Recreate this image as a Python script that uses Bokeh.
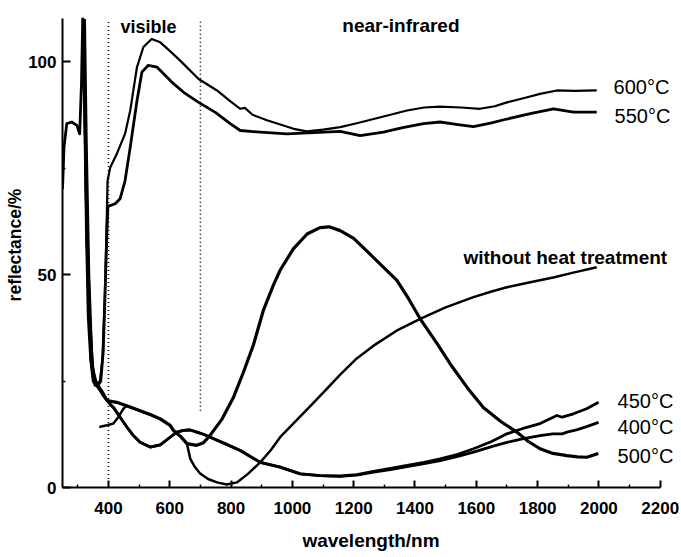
from bokeh.plotting import figure
from bokeh.models import FixedTicker, Label
from bokeh.embed import file_html
from bokeh.resources import INLINE

# ---------------- data ----------------
wl_600 = [320, 326, 333, 342, 352, 362, 372, 380, 388, 394, 397, 406, 427, 454, 471, 493, 514, 541,
          569, 600, 634, 694, 754, 800, 830, 845, 870, 917, 1004, 1047, 1100, 1156, 1210, 1265, 1320,
          1374, 1430, 1482, 1550, 1612, 1660, 1700, 1760, 1808, 1863, 1920, 1993]
r_600 = [110, 80, 50, 30, 24.5, 24.3, 25, 30, 45, 62, 72, 75.2, 78.3, 83, 88.5, 98.7, 103.4, 105.3,
         104.5, 102.5, 100.2, 95.9, 93.2, 90.5, 88.9, 89.1, 87.5, 86.2, 84.2, 83.6, 84.0, 84.6, 85.5, 86.5, 87.5,
         88.5, 89.2, 89.4, 89.2, 88.9, 89.5, 90.4, 91.5, 92.4, 93.2, 93.1, 93.2]

wl_550 = [322, 328, 336, 346, 356, 365, 375, 383, 390, 395, 398, 422, 438, 454, 471, 493, 509, 530,
          558, 612, 650, 694, 750, 797, 830, 895, 982, 1070, 1156, 1221, 1297, 1360, 1428, 1482, 1540,
          1591, 1650, 1700, 1780, 1852, 1917, 1993]
r_550 = [110, 80, 50, 30, 24, 23.8, 25, 32, 48, 60, 66, 66.6, 67.8, 72, 79.9, 90.8, 97.5, 99.1,
         98.7, 94.8, 92.5, 90.4, 88, 85.4, 83.8, 83.4, 83, 83.3, 83.6, 82.6, 83.4, 84.5, 85.4, 85.8, 85.2,
         84.7, 85.6, 86.5, 87.8, 88.9, 88.1, 88.1]

wl_raw = [370, 395, 416, 432, 449, 459, 503, 540, 569, 601, 612, 635, 656, 667, 682, 699, 725, 754,
          786, 819, 855, 895, 930, 960, 1010, 1060, 1110, 1156, 1210, 1265, 1340, 1417, 1500, 1591,
          1650, 1700, 1776, 1851, 1920, 1993]
r_raw = [14.2, 14.6, 15, 16.5, 18.5, 19.2, 18, 17, 16.1, 14.6, 13.4, 12, 10.3, 6.7, 4.8, 3.3, 2, 1.2,
         0.7, 1.2, 3.2, 5.9, 8.8, 11.8, 15.5, 19.2, 23, 26.5, 30.3, 33.3, 36.8, 39.6, 42.3, 44.7,
         46, 47, 48.2, 49.3, 50.5, 51.7]

wl_500 = [318, 324, 330, 338, 348, 358, 370, 385, 395, 427, 459, 503, 540, 569, 601, 612, 635, 656,
          688, 710, 732, 770, 808, 840, 873, 905, 938, 960, 1003, 1048, 1090, 1120, 1156, 1200, 1250,
          1300, 1341, 1380, 1417, 1470, 1515, 1570, 1623, 1680, 1732, 1770, 1808, 1850, 1896, 1930,
          1961, 1998]
r_500 = [110, 85, 60, 40, 28, 25, 23.5, 21.8, 20.4, 20, 19.2, 18, 17, 16.1, 14.6, 13.4, 12, 10.3,
         9.9, 10.5, 12.3, 16, 21.2, 27, 33.5, 41.5, 47.5, 51, 56, 59.5, 61, 61.2, 60.3, 58.5, 55,
         51.5, 48.6, 44.2, 39.6, 34, 29, 23.5, 18.8, 15.5, 13, 10.8, 9.1, 8, 7.5, 7.2,
         7.1, 8]

wl_450 = [318, 324, 330, 338, 348, 358, 373, 384, 406, 416, 438, 460, 480, 503, 536, 569, 601, 623,
          645, 667, 688, 710, 732, 780, 830, 895, 960, 1026, 1090, 1156, 1210, 1265, 1320, 1374, 1430,
          1482, 1540, 1591, 1650, 1700, 1750, 1808, 1863, 1880, 1917, 1960, 1999]
r_450 = [110, 85, 58, 38, 27, 25, 22.8, 21.5, 19.5, 18.8, 16.5, 14.2, 12.3, 10.6, 9.5, 10, 11.8, 13,
         13.4, 13.5, 13, 12.5, 11.8, 10.3, 8.7, 5.9, 4.8, 3.2, 2.8, 2.7, 3.0, 3.8, 4.5, 5.2, 5.9,
         6.7, 7.8, 9.1, 10.8, 12.6, 13.8, 15, 16.9, 16.5, 17.3, 18.5, 20]

wl_400 = [250, 255, 264, 280, 297, 306, 312, 316, 322, 328, 334, 342, 350, 373, 384, 406, 416, 438,
          460, 480, 503, 536, 569, 601, 623, 645, 667, 688, 710, 732, 780, 830, 895, 960, 1026, 1090,
          1156, 1210, 1265, 1320, 1374, 1430, 1482, 1540, 1591, 1650, 1700, 1750, 1808, 1850, 1880,
          1896, 1930, 1960, 1999]
r_400 = [70, 80, 85.4, 85.8, 85, 83, 95, 110, 90, 60, 40, 30, 25, 22.8, 21.5, 19.5, 18.8, 16.5,
         14.2, 12.3, 10.6, 9.5, 10, 11.8, 13, 13.4, 13.5, 13, 12.5, 11.8, 10.3, 8.7, 5.9, 4.8, 3.2, 2.8,
         2.6, 2.9, 3.6, 4.2, 4.9, 5.6, 6.3, 7.3, 8.3, 9.6, 10.6, 11.4, 12.2, 12.6, 12.6,
         13.0, 13.6, 14.3, 15.3]

x_ticks = [400, 600, 800, 1000, 1200, 1400, 1600, 1800, 2000, 2200]
x_minor = [300, 500, 700, 900, 1100, 1300, 1500, 1700, 1900, 2100]
y_ticks = [0, 50, 100]
y_minor = [25, 75]
region_edges = [400, 700]

FONT = "Liberation Sans"

p = figure(width=681, height=557, x_range=(250, 2263), y_range=(0, 113.85),
           output_backend="svg", toolbar_location=None,
           min_border_left=62, min_border_right=2, min_border_top=2, min_border_bottom=70)
p.outline_line_color = None
p.xgrid.visible = False
p.ygrid.visible = False
p.background_fill_color = "white"

# axes
xa = p.xaxis[0]
xa.bounds = (250, 2200)
xa.ticker = FixedTicker(ticks=x_ticks, minor_ticks=x_minor)
xa.axis_label = "wavelength/nm"
ya = p.yaxis[0]
ya.bounds = (0, 110)
ya.ticker = FixedTicker(ticks=y_ticks, minor_ticks=y_minor)
ya.axis_label = "reflectance/%"
for ax in (xa, ya):
    ax.axis_line_width = 2
    ax.axis_line_color = "black"
    ax.major_tick_line_width = 2
    ax.major_tick_line_color = "black"
    ax.minor_tick_line_width = 1.5
    ax.minor_tick_line_color = "black"
    ax.major_tick_out = 0
    ax.minor_tick_out = 0
    ax.minor_tick_in = 3
    ax.major_label_text_font = FONT
    ax.major_label_text_font_style = "bold"
    ax.major_label_text_font_size = "17px"
    ax.major_label_text_color = "black"
    ax.axis_label_text_font = FONT
    ax.axis_label_text_font_style = "bold"
    ax.axis_label_text_color = "black"
xa.major_tick_in = 7
ya.major_tick_in = 8
xa.major_label_standoff = 14
xa.axis_label_standoff = 13
xa.axis_label_text_font_size = "19px"
ya.major_label_standoff = 6
ya.axis_label_standoff = 0
ya.axis_label_text_font_size = "17.5px"

# dotted region boundaries
p.line([region_edges[0]] * 2, [2, 110], line_dash="1 3", line_width=1.6, line_color="black")
p.line([region_edges[1]] * 2, [18, 110], line_dash="1 3", line_width=1.6, line_color="black")

# curves
p.line(wl_600, r_600, line_width=2.2, line_color="black", line_join="round")
p.line(wl_550, r_550, line_width=2.8, line_color="black", line_join="round")
p.line(wl_raw, r_raw, line_width=2.5, line_color="black", line_join="round")
p.line(wl_500, r_500, line_width=3.2, line_color="black", line_join="round")
p.line(wl_450, r_450, line_width=2.8, line_color="black", line_join="round")
p.line(wl_400, r_400, line_width=2.8, line_color="black", line_join="round")

def lab(x, y, text, size, style="bold"):
    p.add_layout(Label(x=x, y=y, text=text, text_font=FONT, text_font_size=size,
                       text_font_style=style, text_color="black",
                       text_baseline="alphabetic", text_align="left"))

lab(439, 108.0, "visible", "18px")
lab(1163, 108.4, "near-infrared", "19px")
lab(2048, 93.9, "600°C", "20px", "normal")
lab(2051, 87.3, "550°C", "20px", "normal")
lab(1558, 54.0, "without heat treatment", "19px")
lab(2061, 20.2, "450°C", "20px", "normal")
lab(2061, 14.1, "400°C", "20px", "normal")
lab(2061, 7.3, "500°C", "20px", "normal")

open("out.html", "w").write(file_html(p, INLINE))
